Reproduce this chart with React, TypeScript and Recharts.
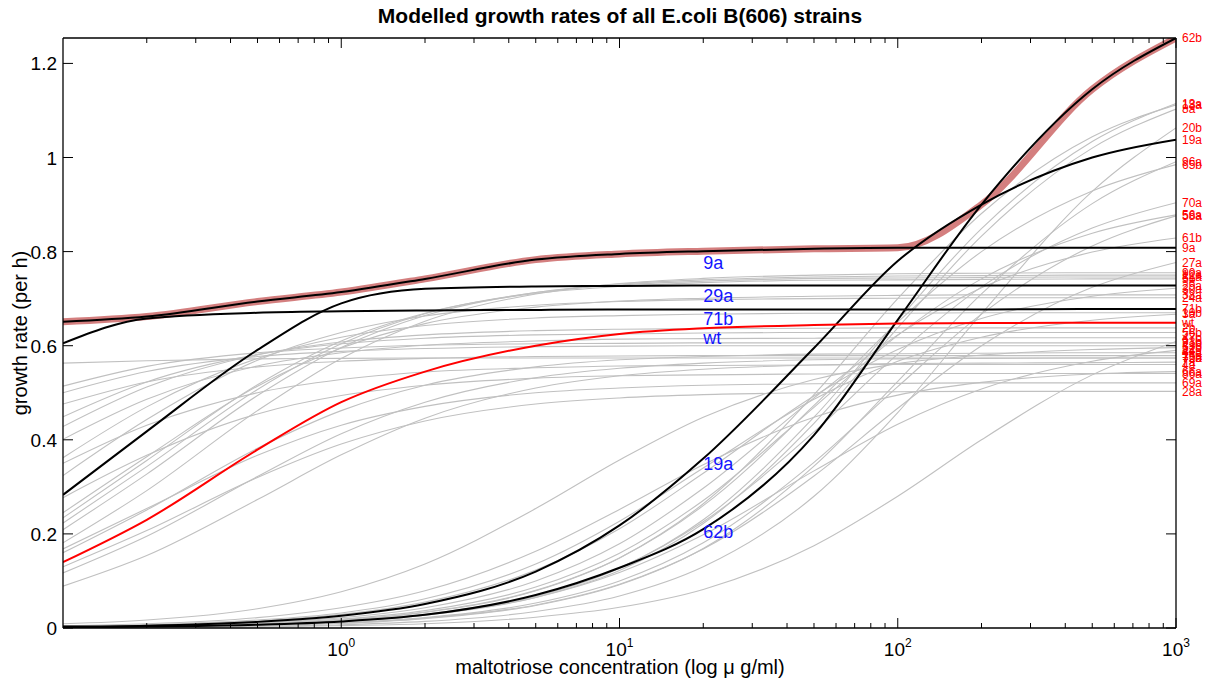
import { LineChart, Line, XAxis, YAxis, ReferenceDot } from 'recharts';

// substrate concentrations (µg/ml) at which each strain's growth rate was modelled
const concentrations = [0.1, 0.2, 0.5, 1, 2, 5, 10, 20, 50, 100, 200, 500, 1000];

// background strains, drawn in grey
const greyNames = [
  '72a', '21b', '33b', '15a', '56b', '2b', '47b', '10b', '4a', '24a', '86a',
  '38a', '5b', '81a', '12a', '90a', '69a', '41a', '28a', '75b', '7a',
  '18a', '13a', '8a', '20b', '96a', '65b', '70a', '56a', '58a', '61b', '27a',
  '44a', '66a', '52b', '30a', '93b', '3a',
];

const greyRates = [
  [0.563, 0.568, 0.572, 0.573, 0.574, 0.574, 0.574, 0.574, 0.574, 0.574, 0.574, 0.574, 0.574],
  [0.514, 0.556, 0.585, 0.595, 0.601, 0.604, 0.605, 0.606, 0.606, 0.606, 0.606, 0.606, 0.606],
  [0.500, 0.545, 0.577, 0.588, 0.594, 0.598, 0.599, 0.600, 0.600, 0.600, 0.600, 0.600, 0.600],
  [0.476, 0.523, 0.555, 0.567, 0.573, 0.577, 0.578, 0.579, 0.579, 0.579, 0.579, 0.579, 0.579],
  [0.449, 0.523, 0.581, 0.604, 0.616, 0.623, 0.625, 0.627, 0.628, 0.628, 0.628, 0.628, 0.628],
  [0.428, 0.512, 0.581, 0.608, 0.623, 0.632, 0.635, 0.636, 0.637, 0.638, 0.638, 0.638, 0.638],
  [0.401, 0.486, 0.557, 0.585, 0.601, 0.610, 0.614, 0.615, 0.616, 0.617, 0.617, 0.617, 0.617],
  [0.362, 0.470, 0.573, 0.618, 0.643, 0.659, 0.664, 0.667, 0.669, 0.669, 0.670, 0.670, 0.670],
  [0.350, 0.431, 0.500, 0.528, 0.544, 0.553, 0.557, 0.558, 0.559, 0.560, 0.560, 0.560, 0.560],
  [0.324, 0.443, 0.569, 0.628, 0.663, 0.686, 0.694, 0.698, 0.700, 0.701, 0.702, 0.702, 0.702],
  [0.277, 0.367, 0.455, 0.494, 0.516, 0.531, 0.536, 0.538, 0.540, 0.541, 0.541, 0.541, 0.541],
  [0.245, 0.364, 0.514, 0.595, 0.647, 0.682, 0.695, 0.701, 0.705, 0.707, 0.708, 0.708, 0.708],
  [0.234, 0.356, 0.517, 0.610, 0.669, 0.711, 0.726, 0.734, 0.739, 0.740, 0.741, 0.742, 0.742],
  [0.223, 0.343, 0.507, 0.604, 0.668, 0.713, 0.729, 0.737, 0.743, 0.744, 0.745, 0.746, 0.746],
  [0.209, 0.327, 0.494, 0.596, 0.664, 0.713, 0.731, 0.740, 0.746, 0.748, 0.749, 0.750, 0.750],
  [0.181, 0.292, 0.462, 0.573, 0.652, 0.710, 0.732, 0.743, 0.750, 0.753, 0.754, 0.755, 0.755],
  [0.168, 0.254, 0.367, 0.431, 0.471, 0.500, 0.510, 0.516, 0.519, 0.520, 0.521, 0.521, 0.521],
  [0.160, 0.251, 0.382, 0.462, 0.516, 0.555, 0.570, 0.577, 0.582, 0.583, 0.584, 0.585, 0.585],
  [0.130, 0.207, 0.320, 0.391, 0.440, 0.476, 0.489, 0.496, 0.500, 0.502, 0.503, 0.503, 0.503],
  [0.117, 0.195, 0.322, 0.413, 0.480, 0.532, 0.552, 0.563, 0.570, 0.572, 0.573, 0.574, 0.574],
  [0.089, 0.154, 0.273, 0.368, 0.446, 0.510, 0.536, 0.550, 0.559, 0.562, 0.563, 0.564, 0.565],
  [0.002, 0.003, 0.008, 0.017, 0.033, 0.079, 0.149, 0.264, 0.496, 0.700, 0.881, 1.044, 1.112],
  [0.001, 0.003, 0.007, 0.014, 0.028, 0.067, 0.127, 0.230, 0.448, 0.654, 0.849, 1.034, 1.115],
  [0.001, 0.003, 0.007, 0.013, 0.027, 0.065, 0.122, 0.222, 0.435, 0.638, 0.833, 1.020, 1.103],
  [0.001, 0.001, 0.004, 0.007, 0.014, 0.035, 0.068, 0.130, 0.280, 0.458, 0.668, 0.928, 1.063],
  [0.001, 0.002, 0.005, 0.010, 0.020, 0.048, 0.092, 0.169, 0.344, 0.524, 0.710, 0.902, 0.991],
  [0.002, 0.003, 0.009, 0.017, 0.034, 0.080, 0.149, 0.260, 0.473, 0.650, 0.800, 0.929, 0.985],
  [0.001, 0.003, 0.007, 0.015, 0.029, 0.069, 0.128, 0.226, 0.417, 0.582, 0.725, 0.850, 0.904],
  [0.002, 0.004, 0.010, 0.019, 0.037, 0.087, 0.159, 0.271, 0.469, 0.622, 0.742, 0.839, 0.878],
  [0.001, 0.002, 0.006, 0.011, 0.022, 0.053, 0.100, 0.181, 0.352, 0.513, 0.667, 0.812, 0.876],
  [0.002, 0.005, 0.011, 0.022, 0.043, 0.100, 0.179, 0.297, 0.489, 0.623, 0.723, 0.799, 0.829],
  [0.001, 0.002, 0.005, 0.010, 0.021, 0.049, 0.093, 0.168, 0.323, 0.467, 0.600, 0.724, 0.777],
  [0.001, 0.003, 0.007, 0.014, 0.028, 0.065, 0.118, 0.198, 0.334, 0.433, 0.508, 0.567, 0.590],
  [0.005, 0.009, 0.022, 0.043, 0.079, 0.163, 0.252, 0.347, 0.448, 0.495, 0.522, 0.540, 0.545],
  [0.009, 0.017, 0.041, 0.077, 0.136, 0.254, 0.357, 0.448, 0.528, 0.562, 0.580, 0.592, 0.596],
  [0.003, 0.006, 0.015, 0.029, 0.055, 0.123, 0.211, 0.329, 0.493, 0.592, 0.658, 0.705, 0.722],
  [0.000, 0.001, 0.002, 0.005, 0.009, 0.023, 0.044, 0.082, 0.175, 0.280, 0.400, 0.538, 0.609],
  [0.003, 0.007, 0.017, 0.032, 0.062, 0.136, 0.227, 0.340, 0.486, 0.567, 0.618, 0.654, 0.667],
];

// highlighted strains
const rate9a = [0.651, 0.662, 0.694, 0.714, 0.742, 0.783, 0.795, 0.801, 0.806, 0.808, 0.808, 0.808, 0.808];
const rate29a = [0.283, 0.418, 0.591, 0.690, 0.721, 0.726, 0.727, 0.728, 0.728, 0.728, 0.728, 0.728, 0.728];
const rate71b = [0.605, 0.658, 0.670, 0.673, 0.675, 0.676, 0.677, 0.677, 0.677, 0.677, 0.677, 0.678, 0.678];
const rate19a = [0.003, 0.005, 0.013, 0.026, 0.051, 0.120, 0.218, 0.360, 0.595, 0.780, 0.900, 1.000, 1.038];
const rate62b = [0.001, 0.003, 0.007, 0.014, 0.028, 0.070, 0.128, 0.210, 0.410, 0.655, 0.900, 1.145, 1.254];
const rateWt = [0.140, 0.230, 0.379, 0.480, 0.545, 0.600, 0.625, 0.637, 0.644, 0.647, 0.648, 0.649, 0.649];

const blackNames = ['9a', '29a', '71b', '19a', '62b'];
const blackRates = [rate9a, rate29a, rate71b, rate19a, rate62b];

const xTicks = [
  0.2, 0.3, 0.4, 0.5, 0.6, 0.7, 0.8, 0.9, 1,
  2, 3, 4, 5, 6, 7, 8, 9, 10,
  20, 30, 40, 50, 60, 70, 80, 90, 100,
  200, 300, 400, 500, 600, 700, 800, 900, 1000,
];
const xMajor = [1, 10, 100, 1000];
const yTicks = [0, 0.2, 0.4, 0.6, 0.8, 1, 1.2];

const FONT = '"Liberation Sans", Arial, Helvetica, sans-serif';
const W = 1208;
const H = 686;
const LABEL_AT = concentrations.indexOf(20);
const LAST = concentrations.length - 1;

const allRates = [...greyRates, ...blackRates, rateWt];

const chartData = concentrations.map((c, i) => {
  const row: Record<string, number> = { c };
  greyRates.forEach((r, k) => (row[`g${k}`] = r[i]));
  blackRates.forEach((r, k) => (row[`b${k}`] = r[i]));
  row.wt = rateWt[i];
  // upper envelope over all strains
  row.env = Math.max(...allRates.map((r) => r[i]));
  return row;
});

const bottomTick = (p: any) => {
  const { x, y, payload } = p;
  const major = xMajor.includes(payload.value);
  return (
    <g>
      <line x1={x} x2={x} y1={y} y2={y - (major ? 10 : 5)} stroke="#000" strokeWidth={1} />
      {major && (
        <text x={x} y={y + 28} textAnchor="middle" fontSize={19} fontFamily={FONT} fill="#000">
          10
          <tspan dy={-9} fontSize={12}>
            {Math.round(Math.log10(payload.value))}
          </tspan>
        </text>
      )}
    </g>
  );
};

const topTick = (p: any) => {
  const { x, y, payload } = p;
  const major = xMajor.includes(payload.value);
  return <line x1={x} x2={x} y1={y} y2={y + (major ? 10 : 5)} stroke="#000" strokeWidth={1} />;
};

const leftTick = (p: any) => {
  const { x, y, payload } = p;
  return (
    <g>
      <line x1={x} x2={x + 10} y1={y} y2={y} stroke="#000" strokeWidth={1} />
      <text x={x - 6} y={y + 7} textAnchor="end" fontSize={19} fontFamily={FONT} fill="#000">
        {payload.value}
      </text>
    </g>
  );
};

const rightTick = (p: any) => {
  const { x, y } = p;
  return <line x1={x} x2={x - 10} y1={y} y2={y} stroke="#000" strokeWidth={1} />;
};

const endLabel = (name: string) => (p: any) =>
  (
    <text x={p.cx + 6} y={p.cy} dy="0.35em" fontSize={12} fontFamily={FONT} fill="#ff0000">
      {name}
    </text>
  );

const blueLabel = (name: string) => (p: any) =>
  (
    <text x={p.cx} y={p.cy} dy="0.35em" fontSize={18} fontFamily={FONT} fill="#1414ff">
      {name}
    </text>
  );

export default function App() {
  return (
    <div style={{ position: 'absolute', left: 0, top: 0, width: W, height: H, background: '#fff' }}>
      <LineChart width={W} height={H} data={chartData} margin={{ top: 37, right: 31, bottom: 0, left: 0 }}>
        <XAxis
          dataKey="c"
          type="number"
          scale="log"
          domain={[0.1, 1000]}
          allowDataOverflow
          ticks={xTicks}
          interval={0}
          height={58}
          tickSize={0}
          tickMargin={0}
          tick={bottomTick}
          axisLine={{ stroke: '#000', strokeWidth: 1.3 }}
        />
        <XAxis
          xAxisId="top"
          orientation="top"
          dataKey="c"
          type="number"
          scale="log"
          domain={[0.1, 1000]}
          allowDataOverflow
          ticks={xTicks}
          interval={0}
          height={1}
          tickSize={0}
          tickMargin={0}
          tick={topTick}
          axisLine={{ stroke: '#000', strokeWidth: 1.3 }}
        />
        <YAxis
          type="number"
          domain={[0, 1.254]}
          allowDataOverflow
          ticks={yTicks}
          interval={0}
          width={63}
          tickSize={0}
          tickMargin={0}
          tick={leftTick}
          axisLine={{ stroke: '#000', strokeWidth: 1.3 }}
        />
        <YAxis
          yAxisId="right"
          orientation="right"
          type="number"
          domain={[0, 1.254]}
          allowDataOverflow
          ticks={yTicks}
          interval={0}
          width={1}
          tickSize={0}
          tickMargin={0}
          tick={rightTick}
          axisLine={{ stroke: '#000', strokeWidth: 1.3 }}
        />

        {/* invisible series so the box axes (top, right) get drawn */}
        <Line
          xAxisId="top"
          yAxisId="right"
          dataKey="env"
          stroke="none"
          dot={false}
          activeDot={false}
          isAnimationActive={false}
        />

        {greyNames.map((n, k) => (
          <Line
            key={n}
            dataKey={`g${k}`}
            type="monotone"
            stroke="#c0c0c0"
            strokeWidth={1.1}
            dot={false}
            activeDot={false}
            isAnimationActive={false}
          />
        ))}

        <Line
          dataKey="env"
          type="monotone"
          stroke="#d47f7f"
          strokeWidth={7}
          dot={false}
          activeDot={false}
          isAnimationActive={false}
        />

        {blackNames.map((n, k) => (
          <Line
            key={n}
            dataKey={`b${k}`}
            type="monotone"
            stroke="#000"
            strokeWidth={2}
            dot={false}
            activeDot={false}
            isAnimationActive={false}
          />
        ))}

        <Line
          dataKey="wt"
          type="monotone"
          stroke="#ff0000"
          strokeWidth={2}
          dot={false}
          activeDot={false}
          isAnimationActive={false}
        />

        {/* strain names at the high-concentration end */}
        {greyNames.map((n, k) => (
          <ReferenceDot key={`e-${n}`} x={1000} y={greyRates[k][LAST]} r={0} ifOverflow="visible" shape={endLabel(n)} />
        ))}
        {blackNames.map((n, k) => (
          <ReferenceDot key={`e-${n}`} x={1000} y={blackRates[k][LAST]} r={0} ifOverflow="visible" shape={endLabel(n)} />
        ))}
        <ReferenceDot x={1000} y={rateWt[LAST]} r={0} ifOverflow="visible" shape={endLabel('wt')} />

        {/* in-plot names just under the highlighted curves */}
        {blackNames.map((n, k) => (
          <ReferenceDot
            key={`b-${n}`}
            x={concentrations[LABEL_AT]}
            y={blackRates[k][LABEL_AT] * 0.97}
            r={0}
            ifOverflow="visible"
            shape={blueLabel(n)}
          />
        ))}
        <ReferenceDot
          x={concentrations[LABEL_AT]}
          y={rateWt[LABEL_AT] * 0.97}
          r={0}
          ifOverflow="visible"
          shape={blueLabel('wt')}
        />
      </LineChart>

      <svg width={W} height={H} style={{ position: 'absolute', left: 0, top: 0, pointerEvents: 'none' }}>
        <text x={620} y={23} textAnchor="middle" fontSize={21} fontWeight="bold" fontFamily={FONT} fill="#000">
          Modelled growth rates of all E.coli B(606) strains
        </text>
        <text x={620} y={674} textAnchor="middle" fontSize={20} fontFamily={FONT} fill="#000">
          maltotriose concentration (log μ g/ml)
        </text>
        <text
          x={0}
          y={0}
          transform="translate(27,333) rotate(-90)"
          textAnchor="middle"
          fontSize={20}
          fontFamily={FONT}
          fill="#000"
        >
          growth rate (per h)
        </text>
      </svg>
    </div>
  );
}
